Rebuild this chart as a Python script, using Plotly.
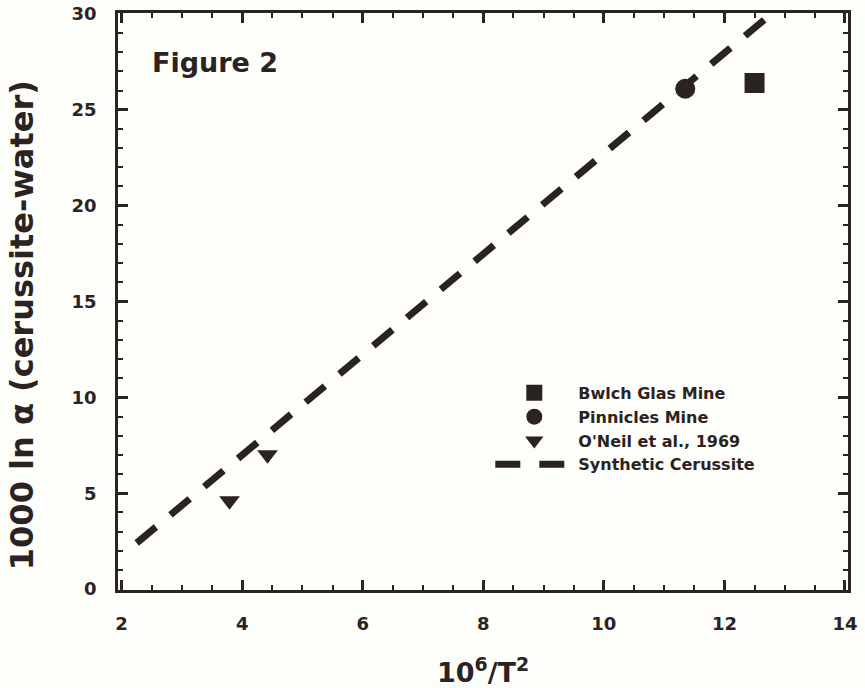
import plotly.graph_objects as go

# Data
bwlch_x = [12.5]
bwlch_y = [26.4]
pinn_x = [11.35]
pinn_y = [26.1]
oneil_x = [3.79, 4.42]
oneil_y = [4.6, 7.0]
synth_x = [2.25, 12.7]
synth_y = [2.4, 29.8]

x_ticks = [2, 4, 6, 8, 10, 12, 14]
y_ticks = [0, 5, 10, 15, 20, 25, 30]

ink = "#2b2222"
bg = "#fdfdfa"
FONT = "DejaVu Sans"

fig = go.Figure()
fig.add_trace(go.Scatter(x=bwlch_x, y=bwlch_y, mode="markers", name="Bwlch Glas Mine",
                         marker=dict(symbol="square", size=20, color=ink)))
fig.add_trace(go.Scatter(x=pinn_x, y=pinn_y, mode="markers", name="Pinnicles Mine",
                         marker=dict(symbol="circle", size=20, color=ink)))
fig.add_trace(go.Scatter(x=oneil_x, y=oneil_y, mode="markers", name="O'Neil et al., 1969",
                         marker=dict(symbol="triangle-down", size=18, color=ink)))
fig.add_trace(go.Scatter(x=synth_x, y=synth_y, mode="lines", name="Synthetic Cerussite",
                         line=dict(color=ink, width=7, dash="25px,19px")))

axis_common = dict(
    showline=True, linecolor=ink, linewidth=2.5, mirror="ticks",
    ticks="inside", ticklen=10, tickwidth=2.5, tickcolor=ink,
    showgrid=False, zeroline=False, automargin=False, ticklabeloverflow="allow",
    tickfont=dict(family=FONT, size=18, color=ink, weight="bold"),
)

fig.update_xaxes(
    range=[1.94, 14.05], tickvals=x_ticks, ticktext=[str(v) for v in x_ticks],
    ticklabelstandoff=16,
    minor=dict(ticks="inside", ticklen=5, tickwidth=2, tickcolor=ink, dtick=0.5),
    title=dict(text="10<sup>6</sup>/T<sup>2</sup>", font=dict(family=FONT, size=27, color=ink, weight="bold"), standoff=32),
    **axis_common,
)
fig.update_yaxes(
    range=[-0.05, 30.05], tickvals=y_ticks, ticktext=[str(v) for v in y_ticks],
    ticklabelstandoff=15,
    minor=dict(ticks="inside", ticklen=5, tickwidth=2, tickcolor=ink, dtick=1),
    **axis_common,
)

# y-axis title
fig.add_annotation(x=-0.1315, y=0.459, xref="paper", yref="paper", xanchor="center", yanchor="middle",
                   text="1000 ln α (cerussite-water)", showarrow=False, textangle=-90,
                   font=dict(family=FONT, size=32, color=ink, weight="bold"))

fig.add_annotation(x=0.0438, y=0.915, xref="paper", yref="paper", xanchor="left", yanchor="middle",
                   text="Figure 2", showarrow=False,
                   font=dict(family=FONT, size=27, color=ink, weight="bold"))

fig.update_layout(
    width=865, height=688,
    margin=dict(l=118, r=17, t=13, b=98, autoexpand=False),
    paper_bgcolor=bg, plot_bgcolor=bg,
    showlegend=True,
    legend=dict(x=0.51, y=0.371, xanchor="left", yanchor="top", bgcolor="rgba(0,0,0,0)",
                font=dict(family=FONT, size=16, color=ink, weight="bold"),
                itemwidth=78, tracegroupgap=0),
)

fig.write_html("out.html", config={"displayModeBar": False},
               post_script="document.body.style.margin='0';")
